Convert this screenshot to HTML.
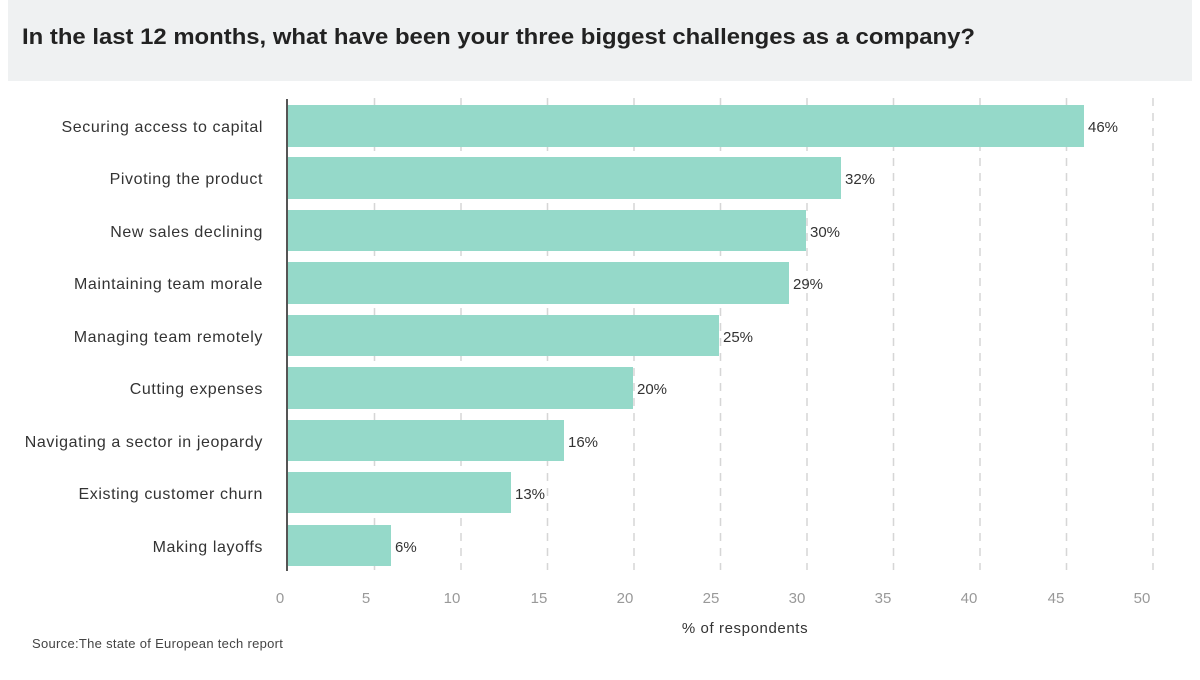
<!DOCTYPE html>
<html><head><meta charset="utf-8"><style>
body{margin:0;background:#fff;width:1200px;height:675px;overflow:hidden;font-family:"Liberation Sans",sans-serif}
</style></head><body>
<svg width="1200" height="675" xmlns="http://www.w3.org/2000/svg" font-family="Liberation Sans, sans-serif">
<rect x="8" y="0" width="1184" height="81" fill="#eff1f2"/>
<text x="22" y="44" font-size="22" font-weight="bold" fill="#222" textLength="953" lengthAdjust="spacingAndGlyphs">In the last 12 months, what have been your three biggest challenges as a company?</text>
<g stroke="#d6d6d6" stroke-width="1.5" stroke-dasharray="8,7">
<line x1="374.5" y1="98" x2="374.5" y2="570"/><line x1="461" y1="98" x2="461" y2="570"/>
<line x1="547.5" y1="98" x2="547.5" y2="570"/><line x1="634" y1="98" x2="634" y2="570"/>
<line x1="720.5" y1="98" x2="720.5" y2="570"/><line x1="807" y1="98" x2="807" y2="570"/>
<line x1="893.5" y1="98" x2="893.5" y2="570"/><line x1="980" y1="98" x2="980" y2="570"/>
<line x1="1066.5" y1="98" x2="1066.5" y2="570"/><line x1="1153" y1="98" x2="1153" y2="570"/>
</g>
<g fill="#95d9c9">
<rect x="288" y="105" width="796" height="42"/>
<rect x="288" y="157" width="553" height="42"/>
<rect x="288" y="210" width="518" height="41"/>
<rect x="288" y="262" width="501" height="42"/>
<rect x="288" y="315" width="431" height="41"/>
<rect x="288" y="367" width="345" height="42"/>
<rect x="288" y="420" width="276" height="41"/>
<rect x="288" y="472" width="223" height="41"/>
<rect x="288" y="525" width="103" height="41"/>
</g>
<line x1="287" y1="99" x2="287" y2="571" stroke="#555" stroke-width="2"/>
<g font-size="16" fill="#333" text-anchor="end" letter-spacing="0.6">
<text x="263" y="132">Securing access to capital</text>
<text x="263" y="184">Pivoting the product</text>
<text x="263" y="237">New sales declining</text>
<text x="263" y="289">Maintaining team morale</text>
<text x="263" y="342">Managing team remotely</text>
<text x="263" y="394">Cutting expenses</text>
<text x="263" y="447">Navigating a sector in jeopardy</text>
<text x="263" y="499">Existing customer churn</text>
<text x="263" y="552">Making layoffs</text>
</g>
<g font-size="15" fill="#333">
<text x="1088" y="132">46%</text><text x="845" y="184">32%</text><text x="810" y="237">30%</text>
<text x="793" y="289">29%</text><text x="723" y="342">25%</text><text x="637" y="394">20%</text>
<text x="568" y="447">16%</text><text x="515" y="499">13%</text><text x="395" y="552">6%</text>
</g>
<g font-size="15" fill="#999" text-anchor="middle">
<text x="280" y="603">0</text><text x="366" y="603">5</text><text x="452" y="603">10</text>
<text x="539" y="603">15</text><text x="625" y="603">20</text><text x="711" y="603">25</text>
<text x="797" y="603">30</text><text x="883" y="603">35</text><text x="969" y="603">40</text>
<text x="1056" y="603">45</text><text x="1142" y="603">50</text>
</g>
<text x="745" y="633" font-size="15" fill="#333" text-anchor="middle" letter-spacing="0.6">% of respondents</text>
<text x="32" y="648" font-size="13" fill="#444" letter-spacing="0.3">Source:The state of European tech report</text>
</svg>
</body></html>
